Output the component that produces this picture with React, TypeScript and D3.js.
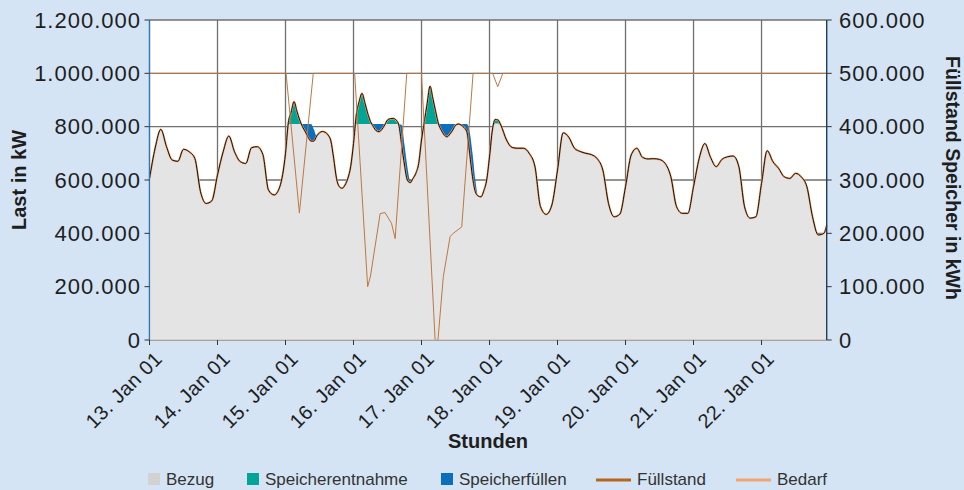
import React from 'react';
import * as d3 from 'd3';

const width = 964;
const height = 490;
const plot = { left: 149.5, right: 826.7, top: 20, bottom: 340 };

// Stunden ab 13. Jan 00:00 (2h Raster, stündlich während Speicherbetrieb)
const stunden = [...d3.range(0, 48, 2), ...d3.range(48, 124, 1), ...d3.range(124, 239, 2), 239];

// Bedarf in 1000 kW
const bedarf = [
  605, 720, 790, 725, 675, 670, 715, 706, 681, 556, 512, 522,
  619, 706, 765, 706, 669, 662, 721, 725, 696, 562, 544, 575,
  // stündlich 48..123
  700, 815, 854, 894, 859, 825, 800, 781, 760, 746, 746, 765,
  777, 782, 779, 769, 747, 681, 606, 575, 569, 581, 606, 650,
  737, 844, 894, 925, 890, 850, 819, 800, 785, 781, 790, 806,
  825, 830, 831, 825, 806, 731, 656, 600, 590, 606, 625, 662,
  750, 819, 887, 952, 906, 856, 810, 787, 769, 762, 772, 787,
  805, 810, 806, 797, 781, 700, 612, 556, 540, 537, 560, 600,
  687, 787, 827, 825,
  // 124..238
  806, 750, 722, 719, 719, 700, 652, 500, 471, 506,
  637, 777, 760, 719, 707, 700, 695, 680, 637, 512, 462, 472,
  575, 694, 719, 685, 679, 680, 677, 662, 612, 500, 475, 475,
  575, 681, 737, 685, 650, 677, 687, 690, 650, 500, 457, 462,
  587, 710, 669, 644, 612, 606, 625, 612, 575, 462, 394, 400,
  430,
];

// Bezug in 1000 kW, Stunde 48..123 (sonst gleich Bedarf)
const bezugStart = 48;
const bezugTeil = [
  700, 810, 810, 810, 810, 810, 810, 810, 810, 810, 790, 765,
  777, 782, 779, 769, 747, 681, 606, 575, 569, 581, 606, 650,
  737, 810, 810, 810, 810, 810, 810, 810, 810, 810, 810, 810,
  810, 810, 810, 810, 810, 806, 731, 650, 600, 606, 625, 662,
  750, 810, 810, 810, 810, 810, 810, 810, 810, 810, 810, 810,
  810, 810, 810, 810, 810, 781, 700, 600, 540, 537, 560, 600,
  687, 787, 812, 812,
];

// Füllstand Speicher in 1000 kWh
const fuellStunden = [0, 48.2, 52.9, 57.8, 72.4, 77, 78, 81.4, 83.1, 85.4, 86.7, 90.8, 96, 100.8, 101.8, 103.7, 106.1, 107.2, 110.2, 114.2, 121.1, 122.9, 124.7, 239];
const fuellWerte = [500, 500, 238, 500, 500, 100, 120, 237, 239, 219, 190, 500, 500, 0, 0, 119, 194, 200, 212, 500, 500, 475, 500, 500];

const tage = ['13. Jan 01', '14. Jan 01', '15. Jan 01', '16. Jan 01', '17. Jan 01', '18. Jan 01', '19. Jan 01', '20. Jan 01', '21. Jan 01', '22. Jan 01'];
const lastTicks = [0, 200000, 400000, 600000, 800000, 1000000, 1200000];
const fuellTicks = [0, 100000, 200000, 300000, 400000, 500000, 600000];

const farben = {
  bg: '#d4e4f4',
  grid: '#707070',
  bezug: '#e4e4e4',
  bezugLeg: '#d2d2d2',
  entnahme: '#02a595',
  fuellen: '#0b6fbd',
  fuellstand: '#bd7842',
  fuellstandLeg: '#b5651d',
  bedarf: '#f2a66e',
  text: '#1e1e1e',
};

const font = "'Liberation Sans', Arial, Helvetica, sans-serif";
const fmt = d3.formatLocale({ decimal: ',', thousands: '.', grouping: [3], currency: ['', ' €'] }).format(',d');

export default function App() {
  const x = d3.scaleLinear().domain([0, 239]).range([plot.left, plot.right]);
  const yL = d3.scaleLinear().domain([0, 1200000]).range([plot.bottom, plot.top]);
  const yR = d3.scaleLinear().domain([0, 600000]).range([plot.bottom, plot.top]);

  const rows = stunden.map((h, i) => {
    const d = bedarf[i] * 1000;
    const b = h >= bezugStart && h < bezugStart + bezugTeil.length ? bezugTeil[h - bezugStart] * 1000 : d;
    return { h, d, b };
  });
  const fuell = fuellStunden.map((h, i) => ({ h, v: fuellWerte[i] * 1000 }));

  const kurve = d3.curveMonotoneX;
  const grau = d3.area<any>().curve(kurve).x(r => x(r.h)).y0(yL(0)).y1(r => yL(Math.min(r.d, r.b)));
  const teal = d3.area<any>().curve(kurve).x(r => x(r.h)).y0(r => yL(r.b)).y1(r => yL(Math.max(r.d, r.b)));
  const blau = d3.area<any>().curve(kurve).x(r => x(r.h)).y0(r => yL(r.d)).y1(r => yL(Math.max(r.d, r.b)));
  const lastLinie = d3.line<any>().curve(kurve).x(r => x(r.h)).y(r => yL(r.d));
  const fuellLinie = d3.line<any>().x(r => x(r.h)).y(r => yR(r.v));

  const tagTicks = tage.map((t, i) => ({ t, h: i * 24 }));

  const legend = [
    { name: 'Bezug', typ: 'box', color: farben.bezugLeg, x: 148 },
    { name: 'Speicherentnahme', typ: 'box', color: farben.entnahme, x: 247 },
    { name: 'Speicherfüllen', typ: 'box', color: farben.fuellen, x: 441 },
    { name: 'Füllstand', typ: 'line', color: farben.fuellstandLeg, x: 596 },
    { name: 'Bedarf', typ: 'line', color: farben.bedarf, x: 736 },
  ];

  return (
    <svg width={width} height={height} style={{ position: 'absolute', left: 0, top: 0, display: 'block', background: farben.bg }} fontFamily={font}>
      <rect x={plot.left} y={plot.top} width={plot.right - plot.left} height={plot.bottom - plot.top} fill="#fff" />
      {/* Gitter */}
      {lastTicks.map(v => (
        <line key={'h' + v} x1={plot.left} x2={plot.right} y1={yL(v)} y2={yL(v)} stroke={farben.grid} strokeWidth={1.3} />
      ))}
      {tagTicks.map(d => (
        <line key={'v' + d.h} x1={x(d.h)} x2={x(d.h)} y1={plot.top} y2={plot.bottom} stroke={farben.grid} strokeWidth={1.3} />
      ))}

      <path d={grau(rows) || ''} fill={farben.bezug} />
      <path d={teal(rows) || ''} fill={farben.entnahme} />
      <path d={blau(rows) || ''} fill={farben.fuellen} />
      <path d={lastLinie(rows) || ''} fill="none" stroke={farben.bedarf} strokeWidth={2} />
      <path d={lastLinie(rows) || ''} fill="none" stroke="#111" strokeWidth={1} />
      <path d={fuellLinie(fuell) || ''} fill="none" stroke={farben.fuellstand} strokeWidth={1} />

      <line x1={plot.left} x2={plot.right} y1={plot.bottom} y2={plot.bottom} stroke="#cdb9a6" strokeWidth={1} />
      {/* Achsen */}
      <line x1={plot.left} x2={plot.left} y1={plot.top} y2={plot.bottom} stroke="#2479c8" strokeWidth={1.2} />
      <line x1={plot.right} x2={plot.right} y1={plot.top} y2={plot.bottom} stroke="#1f3d5c" strokeWidth={1.4} />

      {lastTicks.map(v => (
        <g key={'lt' + v}>
          <line x1={plot.left - 5} x2={plot.left} y1={yL(v)} y2={yL(v)} stroke="#333" />
          <text x={141} y={yL(v)} dy="0.35em" textAnchor="end" fontSize={22} letterSpacing={1} fill={farben.text}>{fmt(v)}</text>
        </g>
      ))}
      {fuellTicks.map(v => (
        <g key={'rt' + v}>
          <line x1={plot.right} x2={plot.right + 5} y1={yR(v)} y2={yR(v)} stroke="#333" />
          <text x={839} y={yR(v)} dy="0.35em" textAnchor="start" fontSize={22} letterSpacing={1} fill={farben.text}>{fmt(v)}</text>
        </g>
      ))}
      {tagTicks.map(d => (
        <g key={'xt' + d.h}>
          <line x1={x(d.h)} x2={x(d.h)} y1={plot.bottom} y2={plot.bottom + 5} stroke="#333" />
          <text transform={`translate(${x(d.h) + 14},360) rotate(-45)`} textAnchor="end" fontSize={20} letterSpacing={0.5} fill={farben.text}>{d.t}</text>
        </g>
      ))}

      <text transform="translate(26,180) rotate(-90)" textAnchor="middle" fontSize={20} fontWeight="bold" fill={farben.text}>Last in kW</text>
      <text transform="translate(946,178) rotate(90)" textAnchor="middle" fontSize={19.5} fontWeight="bold" fill={farben.text}>Füllstand Speicher in kWh</text>
      <text x={488} y={448} textAnchor="middle" fontSize={20} fontWeight="bold" fill={farben.text}>Stunden</text>

      {legend.map(l => (
        <g key={l.name}>
          {l.typ === 'box'
            ? <rect x={l.x} y={473} width={12} height={12} fill={l.color} />
            : <line x1={l.x} x2={l.x + 35} y1={480} y2={480} stroke={l.color} strokeWidth={3} />}
          <text x={l.typ === 'box' ? l.x + 18 : l.x + 41} y={485} fontSize={17} fill="#333">{l.name}</text>
        </g>
      ))}
    </svg>
  );
}
